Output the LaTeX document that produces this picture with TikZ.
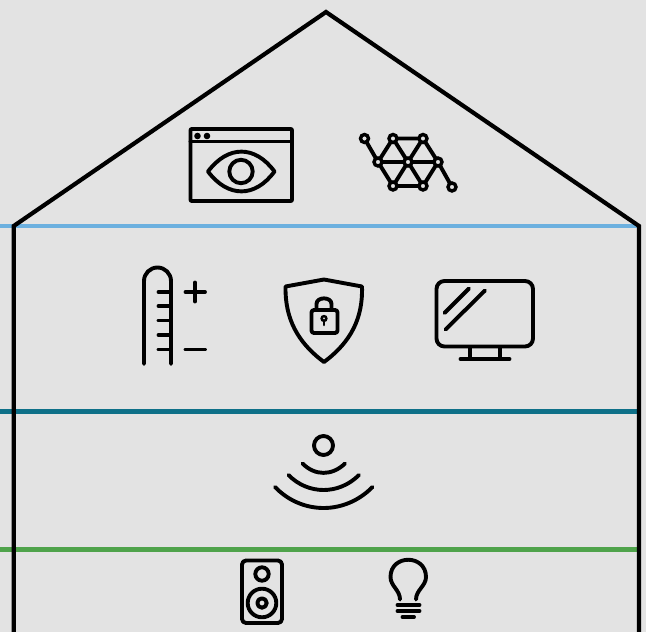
\documentclass[tikz,border=0pt]{standalone}
\definecolor{bgc}{HTML}{E3E3E3}
\definecolor{bluec}{HTML}{6CB0DF}
\definecolor{tealc}{HTML}{0E7088}
\definecolor{greenc}{HTML}{4FA34B}
\tikzset{
  icon/.style={draw=black,line width=3.9pt,line cap=round,line join=round},
  house/.style={draw=black,line width=4.2pt,line join=miter},
  band/.style={line width=4.5pt},
  netn/.style={draw=black,fill=bgc,line width=3.4pt}
}
\begin{document}
\begin{tikzpicture}[x=1pt,y=-1pt]
\useasboundingbox[fill=bgc] (0,0) rectangle (646,632);
% bands
\draw[band,draw=bluec] (0,226) -- (639,226);
\draw[band,draw=tealc] (0,411.3) -- (639,411.3);
\draw[band,draw=greenc] (0,549.3) -- (639,549.3);
% house
\draw[house] (13.7,632) -- (13.7,226) -- (326,12) -- (639,226) -- (639,632);
% window with eye
\draw[icon,rounded corners=1pt] (190.5,129) rectangle (292,201);
\draw[icon] (190.5,141.5) -- (292,141.5);
\fill (197.5,136) circle (3.3) (207,136) circle (3.3);
\draw[icon] (208,171.5) .. controls (228,145) and (255,145) .. (274.5,171.5) .. controls (255,198) and (228,198) .. (208,171.5) -- cycle;
\draw[icon] (241,171.5) circle (11.7);
% network
\coordinate (n1) at (364.5,138.5);
\coordinate (n2) at (393,138.5);
\coordinate (n3) at (423,138.5);
\coordinate (n4) at (378,162);
\coordinate (n5) at (408,162);
\coordinate (n6) at (438,162);
\coordinate (n7) at (393,186);
\coordinate (n8) at (423,186);
\coordinate (n9) at (452,187);
\draw[icon] (n1)--(n4)--(n7)--(n8)--(n6)--(n9) (n2)--(n3)--(n6)--(n4)--(n2)--(n5)--(n7) (n3)--(n5)--(n8);
\foreach \n in {n1,n2,n3,n4,n5,n6,n7,n8,n9} \draw[netn] (\n) circle (4);
% thermometer
\draw[icon] (144,364) -- (144,281) arc[start angle=180,end angle=360,radius=13.5] -- (171,364);
\foreach \y in {292,306,320.5,335,349.5} \draw[icon] (158.5,\y) -- (171,\y);
\draw[icon] (185.5,292) -- (205,292) (195,282.5) -- (195,301.5);
\draw[icon] (185.5,349.5) -- (205,349.5);
% shield
\draw[icon] (324,279.5) -- (362,286.5) .. controls (363,318) and (351,342) .. (324,362) .. controls (297,342) and (285,318) .. (285.5,286.5) -- cycle;
\draw[icon,rounded corners=2.5pt] (311.5,310) rectangle (337.5,333);
\draw[icon] (316.5,310) -- (316.5,304) .. controls (316.5,296.5) and (331.5,296.5) .. (331.5,304) -- (331.5,310);
\draw[line width=2.4pt] (324,318.5) circle (2.4);
\draw[line width=2.6pt,line cap=round] (324,320) -- (324,325);
% monitor
\draw[icon,rounded corners=8pt] (436.5,281) rectangle (533,346.5);
\draw[icon] (444.5,313) -- (469,288.5) (445.5,329.5) -- (485,290.5);
\draw[icon,line cap=butt] (470,347) -- (470,358) (500,347) -- (500,358);
\draw[icon] (460.5,359) -- (509.5,359);
% wave
\draw[icon] (323.5,445.5) circle (9.5);
\draw[icon] (302.5,463.5) .. controls (315,476) and (332,476) .. (345,463.5);
\draw[icon] (288.5,475) .. controls (308,495) and (339,495) .. (359,475);
\draw[icon] (275,487) .. controls (302,515) and (345,515) .. (372.5,487);
% speaker
\draw[icon,rounded corners=4pt] (242,560.5) rectangle (282,623);
\draw[icon] (262,574) circle (6.7);
\draw[icon] (262,603) circle (14.3);
\draw[icon] (262,603) circle (4.7);
% bulb
\draw[icon] (400,599.5) .. controls (400,590) and (390.5,586) .. (390.5,577) .. controls (390.5,554) and (426,554) .. (426,577) .. controls (426,586) and (416,590) .. (416,599.5);
\draw[icon] (397.5,605) -- (419.5,605) (397.5,611) -- (419.5,611) (402.5,617) -- (414,617);
\end{tikzpicture}
\end{document}
